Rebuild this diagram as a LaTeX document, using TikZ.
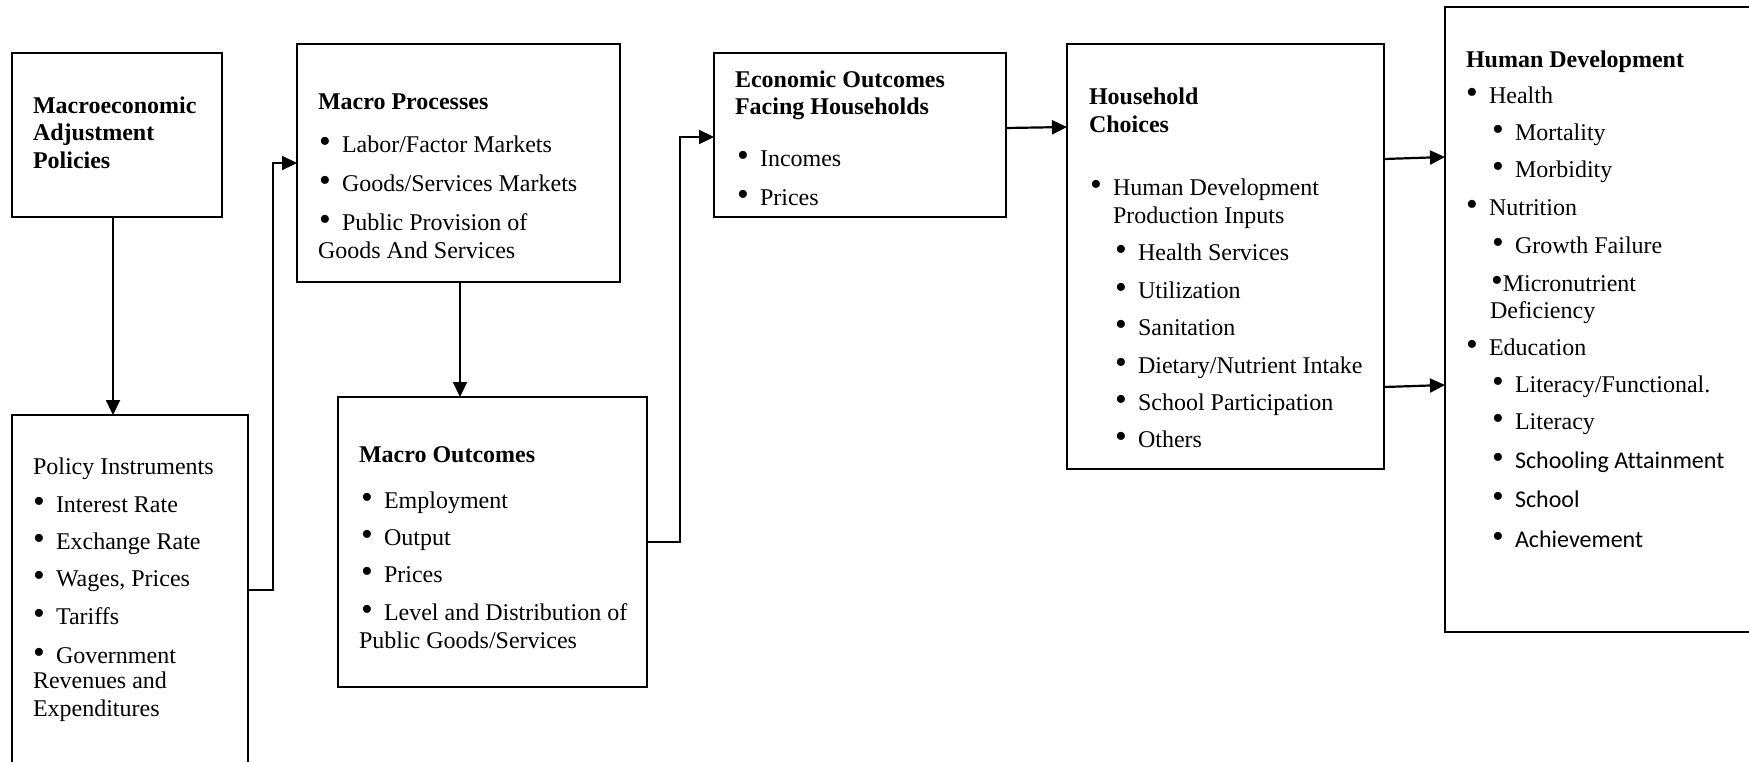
\documentclass[tikz,border=0pt]{standalone}
\usepackage{fontspec}
\setmainfont{Liberation Serif}
\newfontfamily\calfont[Ligatures=NoCommon]{Carlito}
\usetikzlibrary{arrows.meta,fit}
\newcommand\bul{\makebox[11.5pt][l]{\scalebox{1.4}{\textbullet}}}
\newcommand\tbul{\scalebox{1.4}{\textbullet}}
\begin{document}
\begin{tikzpicture}[x=0.5pt,y=-0.5pt,
  box/.style={draw,line width=1.1pt,inner sep=0pt,outer sep=0pt},
  ln/.style={anchor=base west,inner sep=0pt,outer sep=0pt,font=\fontsize{12pt}{14pt}\selectfont},
  hd/.style={ln,font=\fontsize{12pt}{14pt}\selectfont\bfseries},
  arr/.style={line width=1.1pt,-{Triangle[length=7.5pt,width=7pt]}}]
\useasboundingbox (0,0) rectangle (1749,761);
% boxes
\node[box,fit={(12,53) (222,217)}] (b1) {};
\node[box,fit={(12,415) (248,775)}] (b2) {};
\node[box,fit={(297,44) (620,282)}] (b3) {};
\node[box,fit={(338,397) (647,687)}] (b4) {};
\node[box,fit={(714,53) (1006,217)}] (b5) {};
\node[box,fit={(1067,44) (1384,469)}] (b6) {};
\node[box,fit={(1445,7) (1760,632)}] (b7) {};
% box 1
\node[hd] (t1a) at (33,113) {Macroeconomic};
\node[hd] (t1b) at (33,140) {Adjustment};
\node[hd] (t1c) at (33,168) {Policies};
% box 2
\node[ln] (t2a) at (33,474) {Policy Instruments};
\node[ln] (t2b) at (33,512) {\bul Interest Rate};
\node[ln] (t2c) at (33,549) {\bul Exchange Rate};
\node[ln] (t2d) at (33,586) {\bul Wages, Prices};
\node[ln] (t2e) at (33,624) {\bul Tariffs};
\node[ln] (t2f) at (33,663) {\bul Government};
\node[ln] (t2g) at (33,688) {Revenues and};
\node[ln] (t2h) at (33,716) {Expenditures};
% box 3
\node[hd] (t3a) at (318,109) {Macro Processes};
\node[ln] (t3b) at (319,152) {\bul Labor/Factor Markets};
\node[ln] (t3c) at (319,191) {\bul Goods/Services Markets};
\node[ln] (t3d) at (319,230) {\bul Public Provision of};
\node[ln] (t3e) at (318,258) {Goods And Services};
% box 4
\node[hd] (t4a) at (359,462) {Macro Outcomes};
\node[ln] (t4b) at (361,508) {\bul Employment};
\node[ln] (t4c) at (361,545) {\bul Output};
\node[ln] (t4d) at (361,582) {\bul Prices};
\node[ln] (t4e) at (361,620) {\bul Level and Distribution of};
\node[ln] (t4f) at (359,648) {Public Goods/Services};
% box 5
\node[hd] (t5a) at (735,87) {Economic Outcomes};
\node[hd] (t5b) at (735,114) {Facing Households};
\node[ln] (t5c) at (737,166) {\bul Incomes};
\node[ln] (t5d) at (737,205) {\bul Prices};
% box 6
\node[hd] (t6a) at (1089,104) {Household};
\node[hd] (t6b) at (1089,132) {Choices};
\node[ln] (t6c) at (1090,195) {\bul Human Development};
\node[ln] (t6d) at (1113,223) {Production Inputs};
\node[ln] (t6e) at (1115,260) {\bul Health Services};
\node[ln] (t6f) at (1115,298) {\bul Utilization};
\node[ln] (t6g) at (1115,335) {\bul Sanitation};
\node[ln] (t6h) at (1115,373) {\bul Dietary/Nutrient Intake};
\node[ln] (t6i) at (1115,410) {\bul School Participation};
\node[ln] (t6j) at (1115,447) {\bul Others};
% box 7
\node[hd] (t7a) at (1466,67) {Human Development};
\node[ln] (t7b) at (1466,103) {\bul Health};
\node[ln] (t7c) at (1492,140) {\bul Mortality};
\node[ln] (t7d) at (1492,177) {\bul Morbidity};
\node[ln] (t7e) at (1466,215) {\bul Nutrition};
\node[ln] (t7f) at (1492,253) {\bul Growth Failure};
\node[ln] (t7g) at (1491,291) {\tbul Micronutrient};
\node[ln] (t7h) at (1490,318) {Deficiency};
\node[ln] (t7i) at (1466,355) {\bul Education};
\node[ln] (t7j) at (1492,392) {\bul Literacy/Functional.};
\node[ln] (t7k) at (1492,429) {\bul Literacy};
\node[ln] (t7l) at (1492,468) {\bul{\calfont Schooling Attainment}};
\node[ln] (t7m) at (1492,507) {\bul{\calfont School}};
\node[ln] (t7n) at (1492,547) {\bul{\calfont Achievement}};
% connectors
\draw[arr] (b1.south -| 113,0) -- (b2.north -| 113,0);
\draw[arr] (b2.east |- 0,590) -- (273,590) |- (b3.west |- 0,163);
\draw[arr] (b3.south -| 460,0) -- (b4.north -| 460,0);
\draw[arr] (b4.east |- 0,542) -- (680,542) |- (b5.west |- 0,137);
\draw[arr] (b5.east |- 0,128) -- (b6.west |- 0,127);
\draw[arr] (b6.east |- 0,159) -- (b7.west |- 0,157);
\draw[arr] (b6.east |- 0,387) -- (b7.west |- 0,385);
\end{tikzpicture}
\end{document}
